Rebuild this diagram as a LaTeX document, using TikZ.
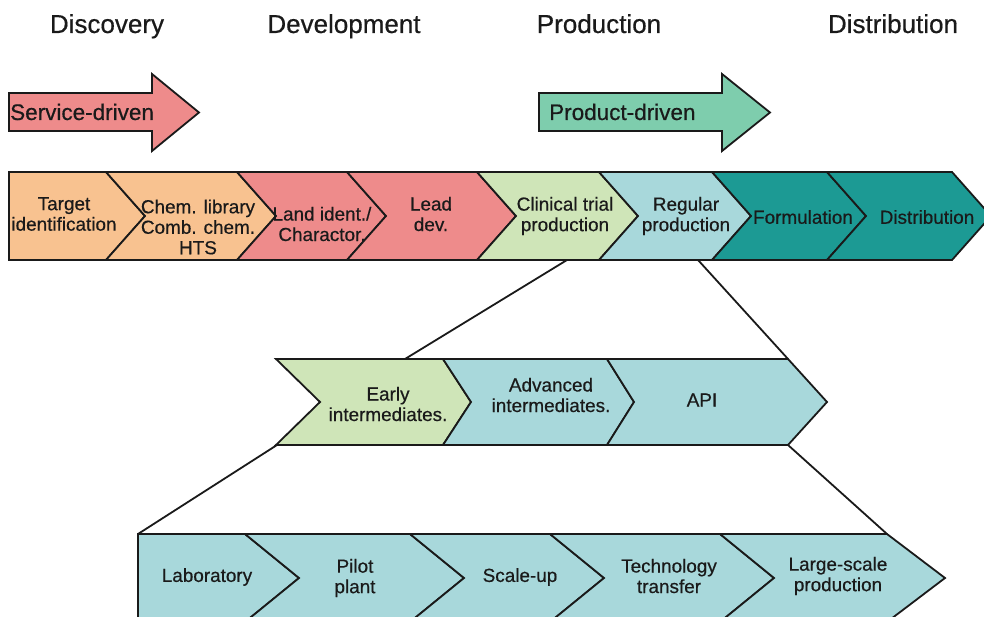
\documentclass[tikz,border=0pt]{standalone}
\usepackage{fontspec}
\setmainfont{Liberation Sans}[RawFeature={embolden=0.5}]
\definecolor{orangeA}{HTML}{F8C290}
\definecolor{salmon}{HTML}{EE8B8B}
\definecolor{paleGreen}{HTML}{CFE5B8}
\definecolor{paleBlue}{HTML}{A8D8DB}
\definecolor{tealDark}{HTML}{1C9A94}
\definecolor{mint}{HTML}{7ECDAD}
\definecolor{ink}{HTML}{1A1A1A}

\begin{document}
\begin{tikzpicture}[x=1pt,y=-1pt,
  seg/.style={draw=ink, line width=1.8pt, line join=miter},
  lbl/.style={font=\fontsize{18.9}{20.5}\selectfont, align=center, text=ink, inner sep=0pt},
  heading/.style={font=\fontsize{26}{30}\selectfont, text=ink, inner sep=0pt, anchor=base},
  arrowlbl/.style={font=\fontsize{22.5}{26}\selectfont, text=ink, inner sep=0pt, anchor=base west},
  link/.style={draw=ink, line width=1.8pt}]
\useasboundingbox (0,0) rectangle (984,617);
\clip (0,0) rectangle (984,617);
\fill[white] (0,0) rectangle (984,617);

% ---- stage headings ----
\node[heading] (hdisc) at (107,33) {Discovery};
\node[heading] (hdev)  at (344,33) {Development};
\node[heading] (hprod) at (599,33) {Production};
\node[heading] (hdist) at (893,33) {Distribution};

% ---- block arrows ----
\path[seg, fill=salmon] (9,93) -- (152,93) -- (152,74) -- (199,112.5) -- (152,151) -- (152,131) -- (9,131) -- cycle;
\node[arrowlbl] (service) at (10,120) {Service-driven};
\path[seg, fill=mint] (539,93) -- (722,93) -- (722,74) -- (770,112.5) -- (722,151) -- (722,131) -- (539,131) -- cycle;
\node[arrowlbl] (product) at (549,120) {Product-driven};

% ---- value chain (top row) ----
\path[seg, fill=orangeA] (9,172) -- (106,172) -- (145,216) -- (106,260) -- (9,260) -- cycle;
\path[seg, fill=orangeA] (106,172) -- (237,172) -- (276,216) -- (237,260) -- (106,260) -- (145,216) -- cycle;
\path[seg, fill=salmon] (237,172) -- (347,172) -- (386,216) -- (347,260) -- (237,260) -- (276,216) -- cycle;
\path[seg, fill=salmon] (347,172) -- (477,172) -- (516,216) -- (477,260) -- (347,260) -- (386,216) -- cycle;
\path[seg, fill=paleGreen] (477,172) -- (599,172) -- (638,216) -- (599,260) -- (477,260) -- (516,216) -- cycle;
\path[seg, fill=paleBlue] (599,172) -- (712,172) -- (751,216) -- (712,260) -- (599,260) -- (638,216) -- cycle;
\path[seg, fill=tealDark] (712,172) -- (827,172) -- (866,216) -- (827,260) -- (712,260) -- (751,216) -- cycle;
\path[seg, fill=tealDark] (827,172) -- (952,172) -- (991,216) -- (952,260) -- (827,260) -- (866,216) -- cycle;

\node[lbl] (target) at (64,214) {Target\\identification};
\node[lbl] (chem)   at (198,227) {Chem. library\\Comb. chem.\\HTS};
\node[lbl] (land)   at (322,224) {Land ident./\\Charactor.};
\node[lbl] (lead)   at (431,214) {Lead\\dev.};
\node[lbl] (clin)   at (565,216) {Clinical trial\\production};
\node[lbl] (reg)    at (686,216) {Regular\\production};
\node[lbl] (form)   at (803,217) {Formulation};
\node[lbl] (distr)  at (927,217) {Distribution};

% ---- production stages (middle row) ----
\path[seg, fill=paleGreen] (276,359) -- (443,359) -- (471,402) -- (443,445) -- (276,445) -- (320,402) -- cycle;
\path[seg, fill=paleBlue] (443,359) -- (607,359) -- (634,402) -- (607,445) -- (443,445) -- (471,402) -- cycle;
\path[seg, fill=paleBlue] (607,359) -- (788,359) -- (827,402) -- (788,445) -- (607,445) -- (634,402) -- cycle;

\node[lbl] (early) at (388,404) {Early\\intermediates.};
\node[lbl] (adv)   at (551,395) {Advanced\\intermediates.};
\node[lbl] (api)   at (702,400) {API};

% ---- scale stages (bottom row) ----
\path[seg, fill=paleBlue] (138,534) -- (245,534) -- (299,578) -- (245,622) -- (138,622) -- cycle;
\path[seg, fill=paleBlue] (245,534) -- (410,534) -- (464,578) -- (410,622) -- (245,622) -- (299,578) -- cycle;
\path[seg, fill=paleBlue] (410,534) -- (550,534) -- (604,578) -- (550,622) -- (410,622) -- (464,578) -- cycle;
\path[seg, fill=paleBlue] (550,534) -- (720,534) -- (774,578) -- (720,622) -- (550,622) -- (604,578) -- cycle;
\path[seg, fill=paleBlue] (720,534) -- (887,534) -- (945,578) -- (887,622) -- (720,622) -- (774,578) -- cycle;

\node[lbl] (lab)   at (207,577) {Laboratory};
\node[lbl] (pilot) at (355,578) {Pilot\\plant};
\node[lbl] (scale) at (520,577) {Scale-up};
\node[lbl] (tech)  at (669,576) {Technology\\transfer};
\node[lbl] (large) at (838,576) {Large-scale\\production};

% ---- zoom-in connectors ----
\coordinate (clinL) at (567,260);
\coordinate (regR)  at (698,260);
\coordinate (midTL) at (405,359);
\coordinate (midTR) at (788,359);
\coordinate (midBL) at (277,445);
\coordinate (midBR) at (788,445);
\coordinate (botTL) at (138,534);
\coordinate (botTR) at (887,534);
\draw[link] (clinL) -- (midTL);
\draw[link] (regR) -- (midTR);
\draw[link] (midBL) -- (botTL);
\draw[link] (midBR) -- (botTR);
\end{tikzpicture}
\end{document}
